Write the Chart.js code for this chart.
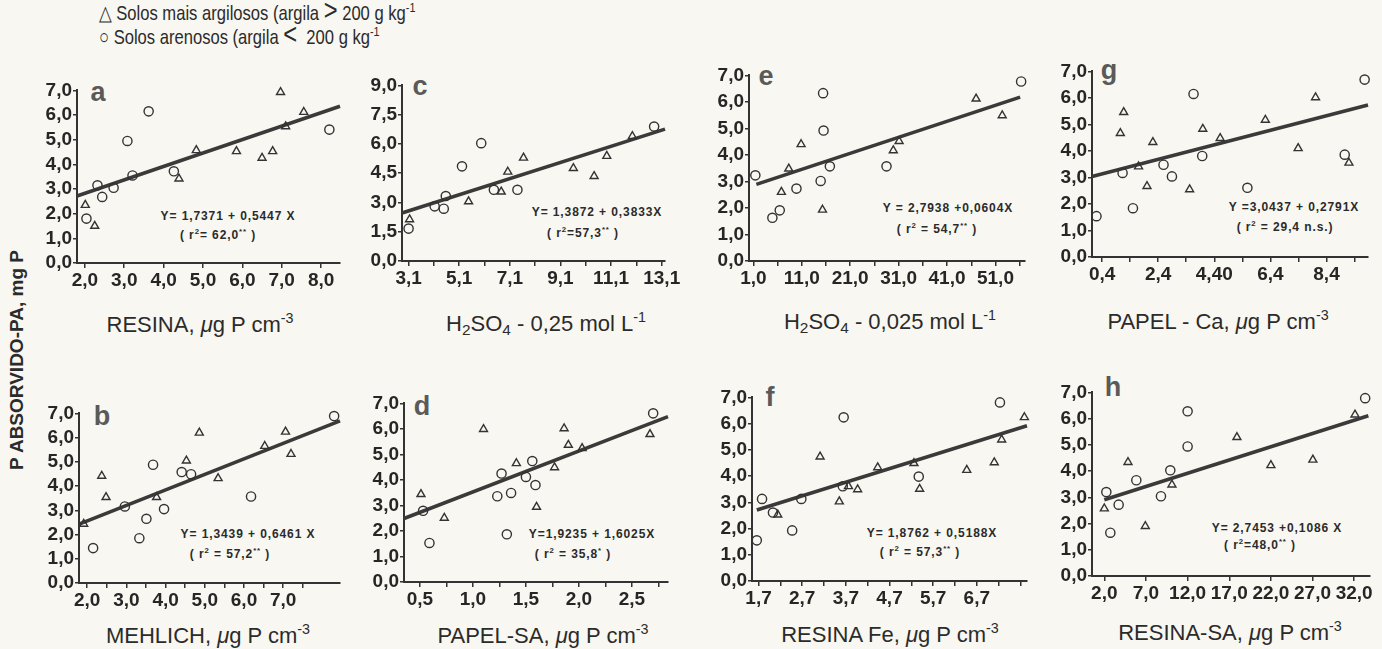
<!DOCTYPE html>
<html><head><meta charset="utf-8">
<script src="https://cdn.jsdelivr.net/npm/chart.js@4.4.1/dist/chart.umd.min.js"></script>
<style>
html,body{margin:0;padding:0;background:#f8f7f1;}
body{width:1382px;height:649px;position:relative;overflow:hidden;font-family:"Liberation Sans",Arial,sans-serif;color:#2b2b2b;}
canvas{position:absolute;}
.t{position:absolute;white-space:nowrap;transform:translate(-50%,-50%);}
.eq{font-size:12px;font-weight:bold;letter-spacing:0.9px;}
.lt{font-size:27px;font-weight:bold;color:#5a5a5a;}
.xt{font-size:22px;}
.lg{position:absolute;white-space:nowrap;font-size:21px;transform-origin:0 50%;transform:translate(0,-50%) scale(0.79,1);}
.big{font-size:30px;line-height:0;}
sup{font-size:0.65em;vertical-align:0.6em;line-height:0;}
sub{font-size:0.7em;vertical-align:-0.25em;line-height:0;}
.yt{position:absolute;white-space:nowrap;font-size:19px;font-weight:bold;transform:translate(-50%,-50%) rotate(-90deg);}
</style></head><body>

<div class="lg" style="left:99px;top:13px">△ Solos mais argilosos (argila <span class="big">&gt;</span> 200 g kg<sup>-1</sup></div>
<div class="lg" style="left:99px;top:37px">○ Solos arenosos (argila <span class="big">&lt;</span>&nbsp; 200 g kg<sup>-1</sup></div>
<div class="yt" style="left:17px;top:360px">P ABSORVIDO-PA, mg P</div>

<div class="t lt" style="left:98px;top:92px">a</div>
<div class="t lt" style="left:420px;top:86px">c</div>
<div class="t lt" style="left:766px;top:76px">e</div>
<div class="t lt" style="left:1109px;top:70px">g</div>
<div class="t lt" style="left:102px;top:416px">b</div>
<div class="t lt" style="left:422px;top:406px">d</div>
<div class="t lt" style="left:770px;top:397px">f</div>
<div class="t lt" style="left:1113px;top:387px">h</div>

<div class="t eq" style="left:228px;top:216px">Y= 1,7371 + 0,5447 X</div>
<div class="t eq" style="left:218px;top:235px">( r<sup>2</sup>= 62,0<sup>**</sup> )</div>
<div class="t eq" style="left:597px;top:212px">Y= 1,3872 + 0,3833X</div>
<div class="t eq" style="left:583px;top:233px">( r<sup>2</sup>=57,3<sup>**</sup> )</div>
<div class="t eq" style="left:948px;top:208px">Y = 2,7938 +0,0604X</div>
<div class="t eq" style="left:937px;top:229px">( r<sup>2</sup> = 54,7<sup>**</sup> )</div>
<div class="t eq" style="left:1294px;top:207px">Y =3,0437 + 0,2791X</div>
<div class="t eq" style="left:1285px;top:227px">( r<sup>2</sup> = 29,4 n.s.)</div>
<div class="t eq" style="left:248px;top:534px">Y= 1,3439 + 0,6461 X</div>
<div class="t eq" style="left:230px;top:554px">( r<sup>2</sup> = 57,2<sup>**</sup> )</div>
<div class="t eq" style="left:592px;top:534px">Y=1,9235 + 1,6025X</div>
<div class="t eq" style="left:573px;top:554px">( r<sup>2</sup> = 35,8<sup>*</sup> )</div>
<div class="t eq" style="left:932px;top:533px">Y= 1,8762 + 0,5188X</div>
<div class="t eq" style="left:920px;top:552px">( r<sup>2</sup> = 57,3<sup>**</sup> )</div>
<div class="t eq" style="left:1277px;top:528px">Y= 2,7453 +0,1086 X</div>
<div class="t eq" style="left:1260px;top:545px">( r<sup>2</sup>=48,0<sup>**</sup> )</div>

<div class="t xt" style="left:200px;top:325px">RESINA, <i>μ</i>g P cm<sup>-3</sup></div>
<div class="t xt" style="left:546px;top:324px">H<sub>2</sub>SO<sub>4</sub> - 0,25 mol L<sup>-1</sup></div>
<div class="t xt" style="left:890px;top:322px">H<sub>2</sub>SO<sub>4</sub> - 0,025 mol L<sup>-1</sup></div>
<div class="t xt" style="left:1218px;top:322px">PAPEL - Ca, <i>μ</i>g P cm<sup>-3</sup></div>
<div class="t xt" style="left:208px;top:636px">MEHLICH, <i>μ</i>g P cm<sup>-3</sup></div>
<div class="t xt" style="left:543px;top:636px">PAPEL-SA, <i>μ</i>g P cm<sup>-3</sup></div>
<div class="t xt" style="left:890px;top:635px">RESINA Fe, <i>μ</i>g P cm<sup>-3</sup></div>
<div class="t xt" style="left:1230px;top:633px">RESINA-SA, <i>μ</i>g P cm<sup>-3</sup></div>

<script>
// ---- data (x = extractor P, y = P absorbed) ----
const triA_x=[2.01,2.25,4.39,4.83,5.85,6.50,6.77,6.97,7.10,7.56];
const triA_y=[2.35,1.50,3.42,4.57,4.53,4.26,4.53,6.93,5.54,6.12];
const cirA_x=[2.04,2.32,2.44,2.73,3.08,3.21,3.62,4.26,8.21];
const cirA_y=[1.80,3.15,2.68,3.05,4.95,3.55,6.15,3.72,5.41];
const fitA_x=[1.80,8.48], fitA_y=[2.72,6.36];

const triB_x=[1.91,2.37,2.48,3.77,4.53,4.86,5.34,6.53,7.06,7.20];
const triB_y=[2.44,4.42,3.54,3.54,5.05,6.20,4.32,5.65,6.24,5.32];
const cirB_x=[2.15,2.96,3.33,3.51,3.68,3.96,4.41,4.65,6.18,8.30];
const cirB_y=[1.44,3.16,1.85,2.65,4.88,3.05,4.58,4.49,3.57,6.89];
const fitB_x=[1.81,8.45], fitB_y=[2.44,6.69];

const triC_x=[3.14,5.47,6.76,7.02,7.64,9.61,10.43,10.93,11.94];
const triC_y=[2.13,3.05,3.55,4.57,5.29,4.76,4.35,5.38,6.40];
const cirC_x=[3.10,4.13,4.49,4.57,5.21,5.97,6.47,7.40,12.80];
const cirC_y=[1.66,2.80,2.68,3.33,4.85,6.04,3.65,3.65,6.89];
const fitC_x=[2.84,13.23], fitC_y=[2.46,6.76];

const triD_x=[0.51,0.73,1.10,1.41,1.60,1.77,1.86,1.90,2.03,2.67];
const triD_y=[3.44,2.51,5.99,4.65,2.94,4.49,6.02,5.37,5.24,5.79];
const cirD_x=[0.53,0.59,1.23,1.27,1.32,1.36,1.50,1.56,1.59,2.70];
const cirD_y=[2.79,1.53,3.36,4.25,1.87,3.49,4.12,4.74,3.80,6.61];
const fitD_x=[0.35,2.84], fitD_y=[2.49,6.48];

const triE_x=[6.79,8.31,10.86,15.28,29.9,31.1,47.0,52.4];
const triE_y=[2.60,3.48,4.40,1.93,4.17,4.52,6.12,5.49];
const cirE_x=[1.41,4.93,6.45,9.90,14.9,15.4,15.5,16.8,28.5,56.3];
const cirE_y=[3.23,1.63,1.91,2.73,3.02,6.33,4.92,3.57,3.57,6.77];
const fitE_x=[1.62,56.1], fitE_y=[2.89,6.18];

const triF_x=[2.14,3.11,3.55,3.76,3.97,4.43,5.26,5.39,6.47,7.10,7.27,7.79];
const triF_y=[2.53,4.74,3.03,3.61,3.49,4.33,4.49,3.51,4.23,4.52,5.39,6.24];
const cirF_x=[1.66,1.78,2.03,2.47,2.68,3.65,3.63,5.37,7.23];
const cirF_y=[1.55,3.13,2.61,1.93,3.13,6.24,3.61,3.98,6.81];
const fitF_x=[1.66,7.85], fitF_y=[2.71,5.92];

const triG_x=[1.05,1.17,1.70,2.00,2.21,3.52,3.99,4.61,6.22,7.39,8.01,9.20];
const triG_y=[4.67,5.46,3.41,2.67,4.33,2.55,4.83,4.48,5.17,4.10,6.02,3.55];
const cirG_x=[0.20,1.13,1.50,2.59,2.89,3.66,3.97,5.58,9.05,9.76];
const cirG_y=[1.54,3.17,1.84,3.48,3.04,6.15,3.81,2.61,3.86,6.69];
const fitG_x=[0.04,9.88], fitG_y=[3.04,5.73];

const triH_x=[2.0,4.84,6.92,10.12,17.92,22.0,27.04,32.1];
const triH_y=[2.57,4.34,1.90,3.48,5.29,4.22,4.43,6.15];
const cirH_x=[2.24,2.72,3.72,5.84,8.80,9.92,12.0,12.0,33.32];
const cirH_y=[3.20,1.65,2.72,3.65,3.04,4.03,6.28,4.94,6.78];
const fitH_x=[2.0,33.7], fitH_y=[2.91,6.11];

// ---- tick values and labels ----
const yTicks7=[0,1,2,3,4,5,6,7];
const yLabels7=["0,0","1,0","2,0","3,0","4,0","5,0","6,0","7,0"];
const yTicks9=[0,1.5,3,4.5,6,7.5,9];
const yLabels9=["0,0","1,5","3,0","4,5","6,0","7,5","9,0"];

const xTicksA=[2,3,4,5,6,7,8];
const xLabelsA=["2,0","3,0","4,0","5,0","6,0","7,0","8,0"];
const xTicksB=[2,2.5,3,3.5,4,4.5,5,5.5,6,6.5,7,7.5];
const xLabelsB=["2,0","","3,0","","4,0","","5,0","","6,0","","7,0",""];
const xTicksC=[3.1,4.1,5.1,6.1,7.1,8.1,9.1,10.1,11.1,12.1,13.1];
const xLabelsC=["3,1","","5,1","","7,1","","9,1","","11,1","","13,1"];
const xTicksD=[0.5,0.75,1,1.25,1.5,1.75,2,2.25,2.5,2.75];
const xLabelsD=["0,5","","1,0","","1,5","","2,0","","2,5",""];
const xTicksE=[1,6,11,16,21,26,31,36,41,46,51,56];
const xLabelsE=["1,0","","11,0","","21,0","","31,0","","41,0","","51,0",""];
const xTicksF=[1.7,2.2,2.7,3.2,3.7,4.2,4.7,5.2,5.7,6.2,6.7,7.2,7.7];
const xLabelsF=["1,7","","2,7","","3,7","","4,7","","5,7","","6,7","",""];
const xTicksG=[0.4,1.4,2.4,3.4,4.4,5.4,6.4,7.4,8.4,9.4];
const xLabelsG=["0,4","","2,4","","4,40","","6,4","","8,4",""];
const xTicksH=[2,7,12,17,22,27,32];
const xLabelsH=["2,0","7,0","12,0","17,0","22,0","27,0","32,0"];

// ---- layout of panels (pixel box of axes) ----
const panels=[
 {L:77,R:340,T:90,B:263,xmin:1.8,xmax:8.48,ymax:7,xt:xTicksA,xl:xLabelsA,yt:yTicks7,yl:yLabels7,tx:triA_x,ty:triA_y,cx:cirA_x,cy:cirA_y,fx:fitA_x,fy:fitA_y},
 {L:79,R:340,T:413,B:583,xmin:1.79,xmax:8.45,ymax:7,xt:xTicksB,xl:xLabelsB,yt:yTicks7,yl:yLabels7,tx:triB_x,ty:triB_y,cx:cirB_x,cy:cirB_y,fx:fitB_x,fy:fitB_y},
 {L:402,R:665,T:85,B:261,xmin:2.84,xmax:13.23,ymax:9,xt:xTicksC,xl:xLabelsC,yt:yTicks9,yl:yLabels9,tx:triC_x,ty:triC_y,cx:cirC_x,cy:cirC_y,fx:fitC_x,fy:fitC_y},
 {L:404,R:668,T:403,B:582,xmin:0.35,xmax:2.84,ymax:7,xt:xTicksD,xl:xLabelsD,yt:yTicks7,yl:yLabels7,tx:triD_x,ty:triD_y,cx:cirD_x,cy:cirD_y,fx:fitD_x,fy:fitD_y},
 {L:749,R:1025,T:75,B:261,xmin:0.1,xmax:57.1,ymax:7,xt:xTicksE,xl:xLabelsE,yt:yTicks7,yl:yLabels7,tx:triE_x,ty:triE_y,cx:cirE_x,cy:cirE_y,fx:fitE_x,fy:fitE_y},
 {L:752,R:1027,T:397,B:581,xmin:1.55,xmax:7.85,ymax:7,xt:xTicksF,xl:xLabelsF,yt:yTicks7,yl:yLabels7,tx:triF_x,ty:triF_y,cx:cirF_x,cy:cirF_y,fx:fitF_x,fy:fitF_y},
 {L:1092,R:1368,T:71,B:257,xmin:0.04,xmax:9.88,ymax:7,xt:xTicksG,xl:xLabelsG,yt:yTicks7,yl:yLabels7,tx:triG_x,ty:triG_y,cx:cirG_x,cy:cirG_y,fx:fitG_x,fy:fitG_y},
 {L:1092,R:1370,T:392,B:576,xmin:0.52,xmax:33.9,ymax:7,xt:xTicksH,xl:xLabelsH,yt:yTicks7,yl:yLabels7,tx:triH_x,ty:triH_y,cx:cirH_x,cy:cirH_y,fx:fitH_x,fy:fitH_y}
];

const INK='#262626';
const pts=(xs,ys)=>xs.map((x,i)=>({x:x,y:ys[i]}));
const tickFont={family:'"Liberation Sans", Arial, sans-serif',size:19,weight:'bold'};

function makePanel(p){
  const W=44,H=32,PT=12,PR=24;
  const cw=(p.R-p.L)+W+PR, ch=(p.B-p.T)+PT+H;
  const c=document.createElement('canvas');
  c.width=cw;c.height=ch;
  c.style.left=(p.L-W)+'px';c.style.top=(p.T-PT)+'px';
  c.style.width=cw+'px';c.style.height=ch+'px';
  document.body.appendChild(c);
  new Chart(c,{
    type:'scatter',
    data:{datasets:[
      {data:pts(p.tx,p.ty),pointStyle:'triangle',pointRadius:4.6,borderColor:'#333',backgroundColor:'rgba(0,0,0,0)',borderWidth:1.4,clip:false},
      {data:pts(p.cx,p.cy),pointStyle:'circle',pointRadius:4.6,borderColor:'#333',backgroundColor:'rgba(0,0,0,0)',borderWidth:1.4,clip:false},
      {data:pts(p.fx,p.fy),showLine:true,pointRadius:0,borderColor:'#3a3a3a',borderWidth:3.6,clip:false}
    ]},
    options:{
      responsive:false,animation:false,devicePixelRatio:1,
      layout:{autoPadding:false,padding:{top:PT,right:PR,left:0,bottom:0}},
      plugins:{legend:{display:false},tooltip:{enabled:false}},
      scales:{
        x:{type:'linear',min:p.xmin,max:p.xmax,
          afterBuildTicks:s=>{s.ticks=p.xt.map(v=>({value:v}));},
          afterFit:s=>{s.height=H;},
          ticks:{autoSkip:false,maxRotation:0,minRotation:0,padding:1,color:INK,font:tickFont,callback:(v,i)=>p.xl[i]},
          grid:{drawOnChartArea:false,drawTicks:true,tickLength:5,color:'#333',lineWidth:1.5},
          border:{display:true,color:'#333',width:2}},
        y:{type:'linear',min:0,max:p.ymax,
          afterBuildTicks:s=>{s.ticks=p.yt.map(v=>({value:v}));},
          afterFit:s=>{s.width=W;},
          ticks:{autoSkip:false,padding:1,color:INK,font:tickFont,callback:(v,i)=>p.yl[i]},
          grid:{drawOnChartArea:false,drawTicks:true,tickLength:4,color:'#333',lineWidth:1.5},
          border:{display:true,color:'#333',width:2}}
      }
    }
  });
}
panels.forEach(makePanel);
</script>
</body></html>
